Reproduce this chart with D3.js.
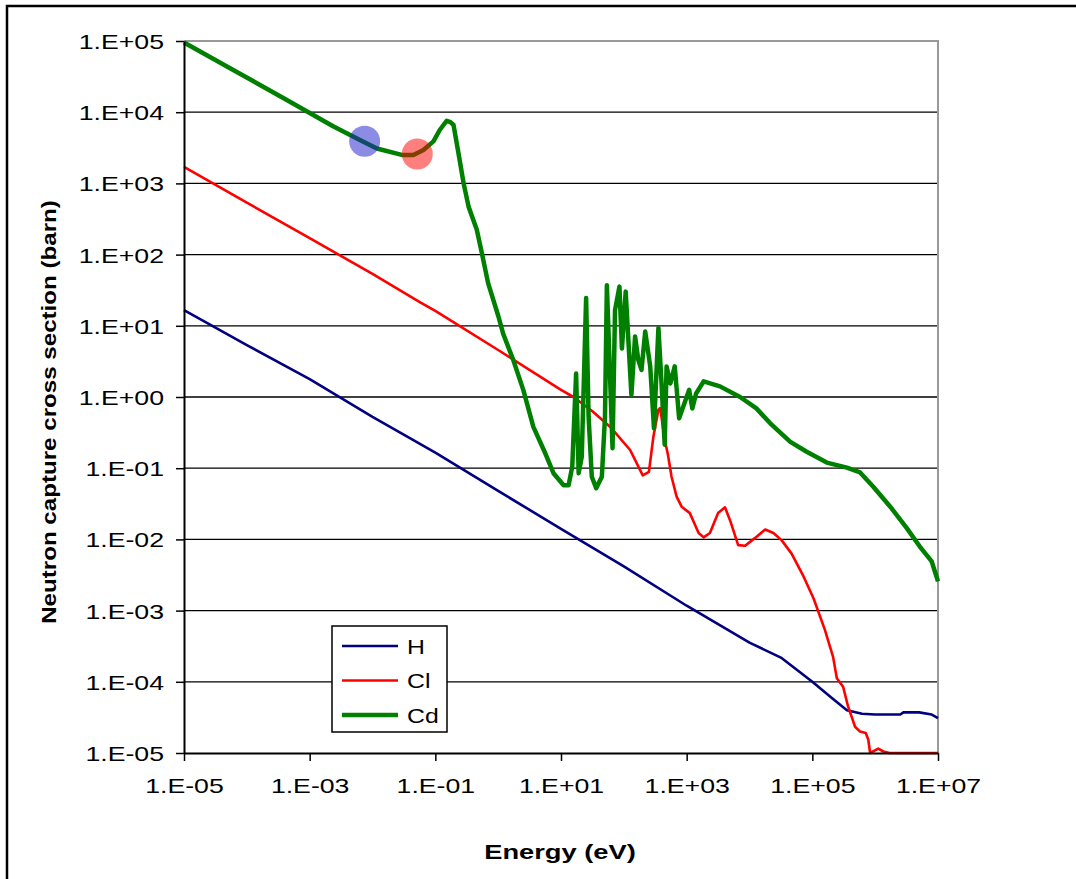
<!DOCTYPE html>
<html>
<head>
<meta charset="utf-8">
<script src="https://cdn.jsdelivr.net/npm/d3@7"></script>
<style>
  body { margin: 0; background: #fff; }
  text { font-family: "Liberation Sans", Arial, sans-serif; }
</style>
</head>
<body>
<div id="vis"></div>
<script>
// H capture cross section (eV, barn)
var hEnergy = [1e-5, 1e-4, 1e-3, 1e-2, 0.1, 1, 10, 100, 1000, 1e4, 3.16e4, 1e5, 2.0e5, 3.55e5, 6.17e5, 1e6, 2.51e6, 2.82e6, 5.01e6, 7.94e6, 1e7];
var hSigma  = [16.6, 5.37, 1.78, 0.525, 0.166, 0.0479, 0.0141, 0.00417, 0.00117, 3.55e-4, 2.19e-4, 1.0e-4, 6.0e-5, 3.98e-5, 3.55e-5, 3.47e-5, 3.47e-5, 3.72e-5, 3.72e-5, 3.47e-5, 3.09e-5];

// Cl
var clEnergy = [1e-5, 1e-4, 1e-3, 1e-2, 0.0575, 0.1, 1, 10, 15.8, 31.6, 60.3, 126, 200, 251, 295, 355, 380, 447, 501, 575, 692, 832, 1122, 1318, 1549, 1862, 2344, 3162, 4074, 4898, 6607, 8511, 12300, 17780, 23990, 32360, 46770, 72440, 104700, 158500, 213800, 245500, 309000, 371500, 478600, 575400, 707900, 776200, 831800, 1122000, 1349000, 1698000, 1e7];
var clSigma  = [1700, 537, 170, 53.7, 21.4, 16.2, 4.57, 1.26, 1.0, 0.631, 0.383, 0.180, 0.0794, 0.0891, 0.275, 0.661, 0.700, 0.251, 0.158, 0.0759, 0.0398, 0.0288, 0.0234, 0.0170, 0.0123, 0.0107, 0.0123, 0.0234, 0.0282, 0.0186, 0.00832, 0.00813, 0.0105, 0.0138, 0.0123, 0.00977, 0.00631, 0.00302, 0.00148, 5.37e-4, 2.24e-4, 1.12e-4, 8.51e-5, 4.47e-5, 2.34e-5, 2.0e-5, 1.91e-5, 1.55e-5, 1.0e-5, 1.15e-5, 1.05e-5, 1.0e-5, 1.0e-5];

// Cd
var cdEnergy = [1e-5, 6.17e-5, 3.80e-4, 2.40e-3, 6.31e-3, 0.01175, 0.0292, 0.0447, 0.0646, 0.0933, 0.1175, 0.1514, 0.174, 0.195, 0.234, 0.282, 0.339, 0.457, 0.550, 0.692, 1.01, 1.20, 1.74, 2.51, 3.63, 5.62, 7.59, 11.0, 13.2, 15.1, 17.4, 19.1, 21.4, 25.1, 27.5, 30.9, 36.3, 44.7, 50.1, 53.7, 66.1, 72.4, 85.1, 93.3, 107, 132, 151, 170, 191, 219, 263, 302, 355, 398, 447, 479, 550, 646, 759, 1096, 1230, 1413, 1862, 3388, 7079, 12880, 21380, 44670, 81280, 169800, 354800, 575400, 933300, 1738000, 3162000, 5129000, 7943000, 1e7];
var cdSigma  = [95000, 38900, 15850, 6310, 4074, 3090, 2512, 2512, 2951, 3890, 5623, 7586, 7244, 6607, 2630, 1000, 468, 224, 105, 39.8, 13.5, 7.76, 3.31, 1.26, 0.380, 0.162, 0.0851, 0.0575, 0.0575, 0.105, 2.14, 0.0851, 0.145, 24.5, 0.525, 0.0759, 0.0525, 0.0759, 0.525, 37.2, 0.191, 16.6, 35.5, 4.79, 30.2, 1.07, 7.08, 3.31, 2.40, 8.32, 2.69, 0.363, 9.33, 1.55, 0.214, 2.69, 1.55, 2.69, 0.501, 1.26, 0.692, 1.12, 1.66, 1.41, 1.0, 0.692, 0.427, 0.234, 0.170, 0.120, 0.102, 0.0871, 0.0550, 0.0288, 0.0145, 0.00794, 0.00490, 0.00257];

// highlighted points
var markEnergy = [0.0075, 0.0516];
var markSigma = [3900, 2590];
var markColor = ["#1a1acc", "#ff0000"];

var seriesNames = ["H", "Cl", "Cd"];
var seriesColors = ["#000080", "#ff0000", "#008000"];
var yTicks = [1e-5, 1e-4, 1e-3, 1e-2, 1e-1, 1, 1e1, 1e2, 1e3, 1e4, 1e5];
var xTicks = [1e-5, 1e-3, 1e-1, 1e1, 1e3, 1e5, 1e7];

var W = 1076, H = 879;
var margin = { left: 184, top: 41 };
var width = 754, height = 712;
var stretch = 1.27;

var svg = d3.select("#vis").append("svg")
  .attr("width", W).attr("height", H);

// outer frame (runs off the page on right and bottom)
svg.append("rect")
  .attr("x", 7).attr("y", 6)
  .attr("width", 1200).attr("height", 1000)
  .attr("fill", "none").attr("stroke", "#000").attr("stroke-width", 2.5);

var g = svg.append("g")
  .attr("transform", "translate(" + margin.left + "," + margin.top + ")");

var x = d3.scaleLog().domain([1e-5, 1e7]).range([0, width]);
var y = d3.scaleLog().domain([1e-5, 1e5]).range([height, 0]);

function fmt(d) {
  var e = Math.round(Math.log10(d));
  return "1.E" + (e < 0 ? "-" : "+") + String(Math.abs(e)).padStart(2, "0");
}

// gridlines
g.append("g")
  .selectAll("line")
  .data(yTicks.slice(1, -1))
  .join("line")
  .attr("x1", 0).attr("x2", width)
  .attr("y1", function(d) { return y(d); })
  .attr("y2", function(d) { return y(d); })
  .attr("stroke", "#000").attr("stroke-width", 1.3);

// plot area border (top and right, gray)
g.append("path")
  .attr("d", "M0,0H" + width + "V" + height)
  .attr("fill", "none").attr("stroke", "#999").attr("stroke-width", 2);

// lines
var line = d3.line()
  .x(function(d) { return x(d[0]); })
  .y(function(d) { return y(d[1]); });

var series = [
  { e: hEnergy, s: hSigma, w: 2.6 },
  { e: clEnergy, s: clSigma, w: 2.6 },
  { e: cdEnergy, s: cdSigma, w: 4.5 }
];

series.forEach(function(sr, i) {
  g.append("path")
    .datum(d3.zip(sr.e, sr.s))
    .attr("fill", "none")
    .attr("stroke", seriesColors[i])
    .attr("stroke-width", sr.w)
    .attr("stroke-linejoin", "round")
    .attr("d", line);
});

// circles
g.append("g")
  .selectAll("circle")
  .data(d3.zip(markEnergy, markSigma, markColor))
  .join("circle")
  .attr("cx", function(d) { return x(d[0]); })
  .attr("cy", function(d) { return y(d[1]); })
  .attr("r", 15.5)
  .attr("fill", function(d) { return d[2]; })
  .attr("fill-opacity", 0.5);

// y axis
var yAxis = g.append("g")
  .call(d3.axisLeft(y).tickValues(yTicks).tickFormat(fmt).tickSize(8).tickSizeOuter(0));
yAxis.select(".domain").attr("stroke-width", 2);
yAxis.selectAll(".tick line").attr("stroke-width", 1.5);
yAxis.selectAll(".tick text")
  .attr("x", null).attr("dy", "0.36em")
  .attr("transform", "translate(-20,0) scale(" + stretch + ",1)")
  .attr("font-size", 21).attr("font-family", "Liberation Sans, Arial, sans-serif")
  .attr("fill", "#000");

// x axis
var xAxis = g.append("g")
  .attr("transform", "translate(0," + height + ")")
  .call(d3.axisBottom(x).tickValues(xTicks).tickFormat(fmt).tickSize(8).tickSizeOuter(0));
xAxis.select(".domain").attr("stroke-width", 2);
xAxis.selectAll(".tick line").attr("stroke-width", 1.5);
xAxis.selectAll(".tick text")
  .attr("y", null).attr("dy", null)
  .attr("transform", "translate(0,40) scale(" + stretch + ",1)")
  .attr("font-size", 21).attr("font-family", "Liberation Sans, Arial, sans-serif")
  .attr("fill", "#000");

// axis titles
svg.append("text")
  .attr("transform", "translate(560,859) scale(1.3,1)")
  .attr("text-anchor", "middle")
  .attr("font-size", 21).attr("font-weight", "bold")
  .text("Energy (eV)");

svg.append("text")
  .attr("transform", "translate(56,412) rotate(-90) scale(1.15,1)")
  .attr("text-anchor", "middle")
  .attr("font-size", 21).attr("font-weight", "bold")
  .text("Neutron capture cross section (barn)");

// legend
var legend = svg.append("g").attr("transform", "translate(332,626)");
legend.append("rect")
  .attr("width", 115).attr("height", 106)
  .attr("fill", "#fff").attr("stroke", "#000").attr("stroke-width", 1.5);
var items = legend.selectAll("g.item")
  .data(seriesNames)
  .join("g")
  .attr("class", "item")
  .attr("transform", function(d, i) { return "translate(0," + (20 + i * 34.5) + ")"; });
items.append("line")
  .attr("x1", 10).attr("x2", 66)
  .attr("stroke", function(d, i) { return seriesColors[i]; })
  .attr("stroke-width", function(d, i) { return i == 2 ? 4.5 : 2.5; });
items.append("text")
  .attr("transform", "translate(75,0) scale(1.18,1)")
  .attr("dy", "0.36em")
  .attr("font-size", 21)
  .text(function(d) { return d; });
</script>
</body>
</html>
